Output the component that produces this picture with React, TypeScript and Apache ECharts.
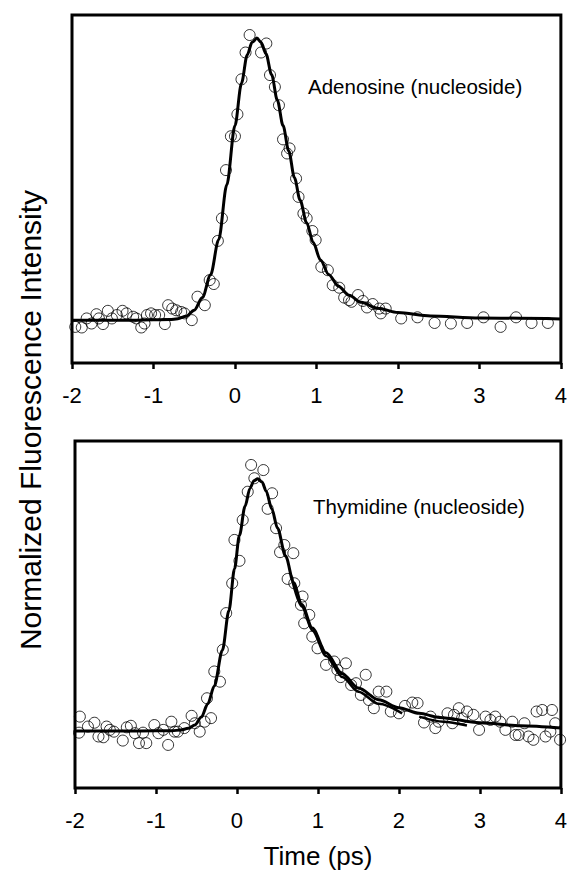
import React, { useEffect, useRef } from "react";
import * as echarts from "echarts";

// Time axis ticks (ps)
const timeTicks = [-2, -1, 0, 1, 2, 3, 4];

// Adenosine: measured points [time (ps), normalized intensity]
const adenosinePoints: [number, number][] = [
  [-1.96, -0.024], [-1.88, -0.026], [-1.82, 0.006], [-1.76, -0.012], [-1.7, 0.021],
  [-1.67, 0.006], [-1.62, -0.014], [-1.56, 0.033], [-1.51, 0.006], [-1.45, 0.018],
  [-1.38, 0.033], [-1.33, 0.024], [-1.25, 0.012], [-1.21, 0.006], [-1.15, -0.026],
  [-1.11, -0.012], [-1.08, 0.018], [-1.03, 0.024], [-0.98, 0.018], [-0.93, 0.018],
  [-0.86, -0.014], [-0.82, 0.053], [-0.77, 0.041], [-0.72, 0.035], [-0.66, 0.029],
  [-0.62, 0.024], [-0.53, 0.0], [-0.46, 0.083], [-0.37, 0.053], [-0.31, 0.142],
  [-0.26, 0.128], [-0.21, 0.281], [-0.16, 0.361], [-0.11, 0.532], [-0.05, 0.652],
  [0.0, 0.652], [0.03, 0.73], [0.08, 0.854], [0.13, 0.949], [0.18, 1.011],
  [0.32, 0.949], [0.385, 0.981], [0.43, 0.869], [0.49, 0.827], [0.54, 0.762],
  [0.59, 0.641], [0.64, 0.591], [0.67, 0.609], [0.75, 0.502], [0.78, 0.437],
  [0.84, 0.378], [0.88, 0.361], [0.95, 0.316], [0.99, 0.284], [1.06, 0.189],
  [1.14, 0.177], [1.2, 0.124], [1.28, 0.115], [1.34, 0.08], [1.4, 0.071],
  [1.43, 0.065], [1.51, 0.089], [1.57, 0.068], [1.62, 0.045], [1.69, 0.057],
  [1.77, 0.041], [1.79, 0.024], [1.85, 0.041], [2.04, 0.006], [2.24, 0.01],
  [2.45, -0.01], [2.65, -0.012], [2.85, -0.01], [3.05, 0.01], [3.26, -0.024],
  [3.45, 0.01], [3.64, -0.01], [3.84, -0.01],
];

// Adenosine: fitted curve
const adenosineFit: [number, number][] = [
  [-2, 0], [-1.2, 0], [-0.8, 0.002], [-0.7, 0.005], [-0.6, 0.014], [-0.5, 0.035],
  [-0.4, 0.08], [-0.3, 0.16], [-0.2, 0.285], [-0.1, 0.48], [0.0, 0.69],
  [0.08, 0.84], [0.15, 0.94], [0.21, 0.985], [0.27, 1.0], [0.32, 0.985],
  [0.38, 0.945], [0.45, 0.87], [0.52, 0.78], [0.59, 0.69], [0.66, 0.6],
  [0.73, 0.505], [0.8, 0.425], [0.88, 0.345], [0.96, 0.275], [1.05, 0.213],
  [1.15, 0.162], [1.27, 0.12], [1.4, 0.088], [1.55, 0.063], [1.75, 0.042],
  [2.0, 0.027], [2.4, 0.015], [3.0, 0.008], [4, 0.004],
];

// Thymidine: measured points
const thymidinePoints: [number, number][] = [
  [-1.95, -0.003], [-1.94, 0.06], [-1.84, 0.021], [-1.76, 0.036], [-1.71, -0.018],
  [-1.65, -0.021], [-1.61, 0.021], [-1.57, 0.008], [-1.52, 0.001], [-1.41, -0.034],
  [-1.36, 0.018], [-1.31, 0.024], [-1.26, -0.005], [-1.21, -0.044], [-1.16, -0.003],
  [-1.12, -0.044], [-1.02, 0.027], [-0.97, -0.005], [-0.91, 0.008], [-0.85, -0.051],
  [-0.81, 0.04], [-0.77, 0.001], [-0.73, 0.001], [-0.65, 0.015], [-0.56, 0.063],
  [-0.52, 0.034], [-0.46, 0.001], [-0.4, 0.04], [-0.37, 0.132], [-0.32, 0.054],
  [-0.28, 0.237], [-0.21, 0.197], [-0.175, 0.322], [-0.133, 0.466], [-0.059, 0.583],
  [-0.031, 0.753], [0.031, 0.671], [0.071, 0.831], [0.133, 0.942], [0.175, 1.047],
  [0.215, 0.995], [0.326, 1.027], [0.379, 0.875], [0.434, 0.936], [0.483, 0.799],
  [0.532, 0.705], [0.585, 0.733], [0.626, 0.6], [0.696, 0.701], [0.708, 0.583],
  [0.79, 0.498], [0.81, 0.531], [0.83, 0.426], [0.893, 0.459], [0.93, 0.374],
  [0.995, 0.328], [1.1, 0.263], [1.2, 0.276], [1.24, 0.243], [1.28, 0.215],
  [1.345, 0.269], [1.41, 0.184], [1.47, 0.191], [1.53, 0.145], [1.59, 0.224],
  [1.63, 0.125], [1.69, 0.093], [1.75, 0.158], [1.845, 0.158], [1.9, 0.08],
  [2.0, 0.073], [2.075, 0.102], [2.165, 0.115], [2.23, 0.113], [2.31, 0.037],
  [2.39, 0.06], [2.45, 0.015], [2.49, 0.04], [2.6, 0.073], [2.66, 0.034],
  [2.68, 0.067], [2.74, 0.093], [2.78, 0.054], [2.84, 0.08], [2.92, 0.067],
  [2.99, 0.008], [3.07, 0.06], [3.13, 0.047], [3.19, 0.06], [3.25, 0.04],
  [3.315, 0.008], [3.4, 0.04], [3.44, -0.012], [3.48, -0.012], [3.55, 0.034],
  [3.6, -0.018], [3.66, -0.031], [3.7, 0.08], [3.77, 0.086], [3.81, -0.018],
  [3.87, 0.001], [3.89, 0.086], [3.93, 0.034], [3.99, -0.031],
];

// Thymidine: fitted curves
const thymidineFit: [number, number][] = [
  [-2, 0.004], [-1.2, 0.004], [-0.8, 0.005], [-0.7, 0.007], [-0.6, 0.014],
  [-0.52, 0.027], [-0.44, 0.058], [-0.36, 0.11], [-0.28, 0.18], [-0.18, 0.32],
  [-0.1, 0.475], [-0.03, 0.64], [0.03, 0.77], [0.1, 0.885], [0.16, 0.955],
  [0.21, 0.985], [0.256, 0.993], [0.31, 0.98], [0.36, 0.945], [0.43, 0.875],
  [0.5, 0.8], [0.6, 0.69], [0.7, 0.585], [0.8, 0.5], [0.93, 0.408],
  [1.1, 0.31], [1.3, 0.228], [1.5, 0.172], [1.75, 0.126], [2.0, 0.095],
  [2.25, 0.073], [2.5, 0.057], [3.0, 0.036], [3.5, 0.024], [4.0, 0.015],
];
const thymidineFitA: [number, number][] = [
  [0.69, 0.585], [0.8, 0.492], [0.93, 0.398], [1.1, 0.298], [1.3, 0.215],
  [1.5, 0.158], [1.75, 0.11], [2.04, 0.073],
];
const thymidineFitB: [number, number][] = [
  [2.25, 0.06], [2.55, 0.04], [2.84, 0.025],
];

const FONT = "'Liberation Sans', Arial, Helvetica, sans-serif";

export default function App() {
  const ref = useRef<HTMLDivElement>(null);

  useEffect(() => {
    if (!ref.current) return;
    const chart = echarts.init(ref.current, undefined, { renderer: "svg" });

    const xAxisBase = (gridIndex: number) => ({
      type: "value" as const,
      gridIndex,
      position: "bottom" as const,
      min: timeTicks[0],
      max: timeTicks[timeTicks.length - 1],
      interval: 1,
      axisLine: { show: false, onZero: false },
      axisTick: { show: true, inside: false, length: 6, lineStyle: { color: "#000", width: 2.5 } },
      axisLabel: { show: true, color: "#000", fontSize: 22, fontFamily: FONT, margin: 21 },
      splitLine: { show: false },
    });
    const yAxisBase = (gridIndex: number, min: number, max: number) => ({
      type: "value" as const,
      gridIndex,
      min,
      max,
      axisLine: { show: false, onZero: false },
      axisTick: { show: false },
      axisLabel: { show: false },
      splitLine: { show: false },
    });

    const scatter = (idx: number, data: [number, number][]) => ({
      type: "scatter" as const,
      xAxisIndex: idx,
      yAxisIndex: idx,
      data,
      symbol: "circle",
      symbolSize: 11,
      itemStyle: { color: "rgba(0,0,0,0)", borderColor: "#000", borderWidth: 1 },
      z: 2,
    });
    const fit = (idx: number, data: [number, number][], width = 3) => ({
      type: "line" as const,
      xAxisIndex: idx,
      yAxisIndex: idx,
      data,
      smooth: 0.3,
      smoothMonotone: "x" as const,
      showSymbol: false,
      symbol: "none",
      lineStyle: { color: "#000", width },
      z: 3,
    });

    chart.setOption({
      animation: false,
      backgroundColor: "#fff",
      grid: [
        { left: 72, right: 8, top: 15, height: 348, show: true, borderColor: "#000", borderWidth: 3, containLabel: false },
        { left: 75, right: 8, top: 441, height: 347, show: true, borderColor: "#000", borderWidth: 3, containLabel: false },
      ],
      xAxis: [xAxisBase(0), xAxisBase(1)],
      yAxis: [yAxisBase(0, -0.152, 1.082), yAxisBase(1, -0.22, 1.141)],
      series: [
        scatter(0, adenosinePoints),
        fit(0, adenosineFit),
        scatter(1, thymidinePoints),
        fit(1, thymidineFit),
        fit(1, thymidineFitA, 2.5),
        fit(1, thymidineFitB, 2.5),
      ],
      graphic: [
        {
          type: "text",
          x: 308,
          y: 86,
          style: { text: "Adenosine (nucleoside)", fill: "#000", font: `20.5px ${FONT}`, textAlign: "left", textVerticalAlign: "middle" },
        },
        {
          type: "text",
          x: 313,
          y: 506,
          style: { text: "Thymidine (nucleoside)", fill: "#000", font: `20.5px ${FONT}`, textAlign: "left", textVerticalAlign: "middle" },
        },
        {
          type: "text",
          x: 318,
          y: 856,
          style: { text: "Time (ps)", fill: "#000", font: `26px ${FONT}`, textAlign: "center", textVerticalAlign: "middle" },
        },
        {
          type: "text",
          x: 30,
          y: 420,
          rotation: Math.PI / 2,
          style: { text: "Normalized Fluorescence Intensity", fill: "#000", font: `30px ${FONT}`, textAlign: "center", textVerticalAlign: "middle" },
        },
      ],
    });

    return () => chart.dispose();
  }, []);

  return <div ref={ref} style={{ position: "absolute", left: 0, top: 0, width: 570, height: 872 }} />;
}
